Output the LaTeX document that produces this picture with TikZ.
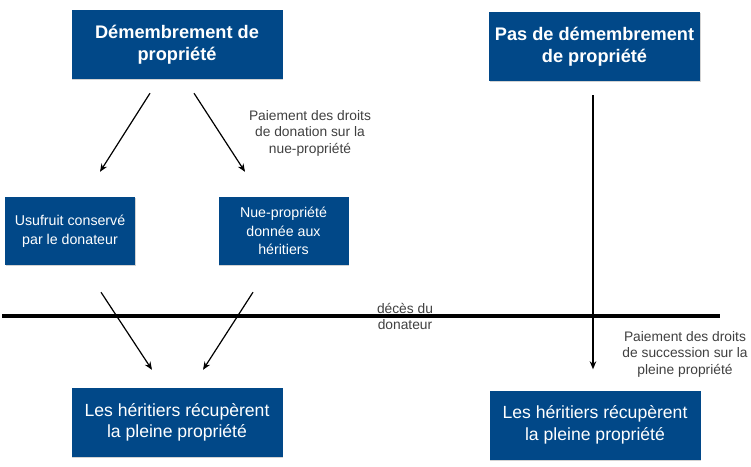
\documentclass[tikz,border=0pt]{standalone}
\usepackage{fontspec}
\setmainfont{Liberation Sans}
\usetikzlibrary{arrows.meta,shadows}
\definecolor{boxblue}{RGB}{1,72,136}
\tikzset{
  bigbox/.style={fill=boxblue, text=white, inner sep=0pt, align=center,
    minimum width=211pt, minimum height=69pt,
    drop shadow={shadow xshift=0.6pt, shadow yshift=-1.2pt, opacity=0.35}},
  smallbox/.style={bigbox, minimum width=130pt, minimum height=68pt,
    font=\fontsize{14.2}{18.5}\selectfont},
  titlefont/.style={font=\fontsize{18.2}{22}\selectfont\bfseries},
  endfont/.style={font=\fontsize{17.6}{21.5}\selectfont},
  note/.style={align=center, text=black!75, font=\fontsize{13.8}{16.5}\selectfont},
  link/.style={line width=1.2pt, -{Stealth[length=8pt,width=6.5pt]}}
}

\begin{document}
\begin{tikzpicture}[x=1pt,y=-1pt]
			%%%%% START %%%%%
			\useasboundingbox (0, 0) rectangle (751, 466);
			
			\node[bigbox, titlefont] (dem) at (177, 44.5) {Démembrement de\\propriété};
			\node[bigbox, titlefont] (nodem) at (594.5, 46.5) {Pas de démembrement\\de propriété};
			
			\node[smallbox] (usu) at (70, 231) {Usufruit conservé\\par le donateur};
			\node[smallbox] (nue) at (283.5, 231) {Nue-propriété\\donnée aux\\héritiers};
			
			\node[bigbox, endfont] (herg) at (177, 422.5) {Les héritiers récupèrent\\la pleine propriété};
			\node[bigbox, endfont] (herd) at (595, 425) {Les héritiers récupèrent\\la pleine propriété};
			
			\draw[link] ([xshift=-27pt, yshift=-14pt]dem.south) -- ([xshift=30pt, yshift=25pt]usu.north);
			\draw[link] ([xshift=17pt, yshift=-14pt]dem.south) -- ([xshift=-38.5pt, yshift=25pt]nue.north);
			\node[note] (donation) at (310, 133) {Paiement des droits\\de donation sur la\\nue-propriété};
			
			\draw[link] ([xshift=31pt, yshift=-27pt]usu.south) -- ([xshift=-25pt, yshift=18pt]herg.north);
			\draw[link] ([xshift=-30.5pt, yshift=-27pt]nue.south) -- ([xshift=26pt, yshift=18pt]herg.north);
			
			\draw[link, line width=2pt] ([xshift=-1.5pt, yshift=-14pt]nodem.south) -- ([xshift=-2pt, yshift=21pt]herd.north);
			\node[note] (succession) at (685, 354) {Paiement des droits\\de succession sur la\\pleine propriété};
			
			% ligne du temps
			\coordinate (deb) at (2, 316);
			\coordinate (fin) at (720, 316);
			\draw[line width=4pt] (deb) -- (fin);
			\node[note] (deces) at (405, 316.5) {décès du\\donateur};
			%%%%% END %%%%%
\end{tikzpicture}
\end{document}
